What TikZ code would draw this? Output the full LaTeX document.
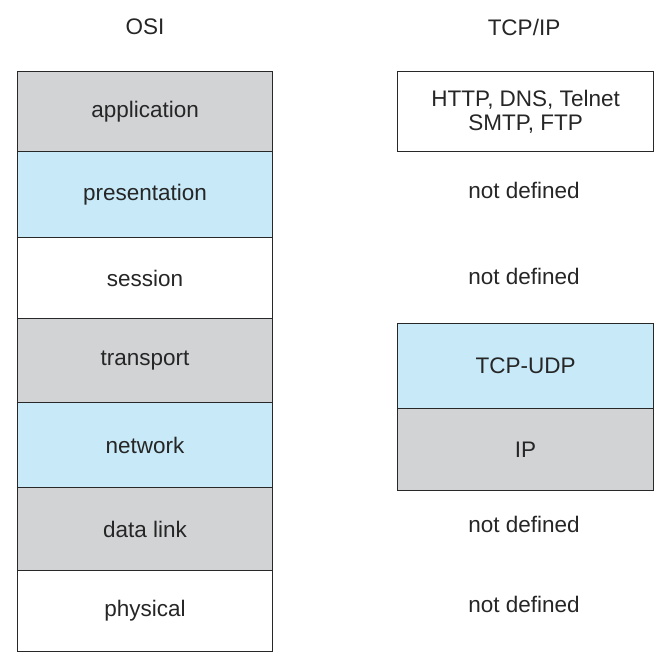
\documentclass[tikz,border=0pt]{standalone}
\usepackage{fontspec}
\setmainfont{Liberation Sans}
\definecolor{laygray}{RGB}{210,211,213}
\definecolor{layblue}{RGB}{199,233,248}
\definecolor{edge}{RGB}{40,40,40}
\begin{document}
\begin{tikzpicture}[x=1pt,y=-1pt,
  layer/.style={draw=edge,line width=1.2pt,minimum width=255pt,inner sep=0pt,anchor=north west,font=\fontsize{22.5}{25}\selectfont,text=black!85},
  lbl/.style={font=\fontsize{22.5}{25}\selectfont,text=black!85}]
\useasboundingbox (0,0) rectangle (660,661);
\node[lbl] (osi) at (145,27) {OSI};
\node[lbl] (tcpip) at (524,27) {TCP/IP};
\node[layer,fill=laygray,minimum height=80pt] (app) at (17,71) {application};
\node[layer,fill=layblue,minimum height=86pt] (pres) at (17,151) {presentation};
\node[layer,fill=white,minimum height=81pt] (sess) at (17,237) {session};
\node[layer,fill=laygray,minimum height=84pt] (trans) at (17,318) {transport};
\node[layer,fill=layblue,minimum height=85pt] (net) at (17,402) {network};
\node[layer,fill=laygray,minimum height=83pt] (dl) at (17,487) {data link};
\node[layer,fill=white,minimum height=81pt] (phys) at (17,570) {physical};
\node[layer,fill=white,minimum height=80pt,minimum width=256pt,align=center,font=\fontsize{22.5}{24}\selectfont] (apps) at (397,71) {HTTP, DNS, Telnet\\SMTP, FTP};
\node[lbl] (nd1) at (524,190) {not defined};
\node[lbl] (nd2) at (524,276) {not defined};
\node[layer,fill=layblue,minimum height=85pt,minimum width=256pt] (tcp) at (397,323) {TCP-UDP};
\node[layer,fill=laygray,minimum height=82pt,minimum width=256pt] (ip) at (397,408) {IP};
\node[lbl] (nd3) at (524,524) {not defined};
\node[lbl] (nd4) at (524,604) {not defined};
\end{tikzpicture}
\end{document}
